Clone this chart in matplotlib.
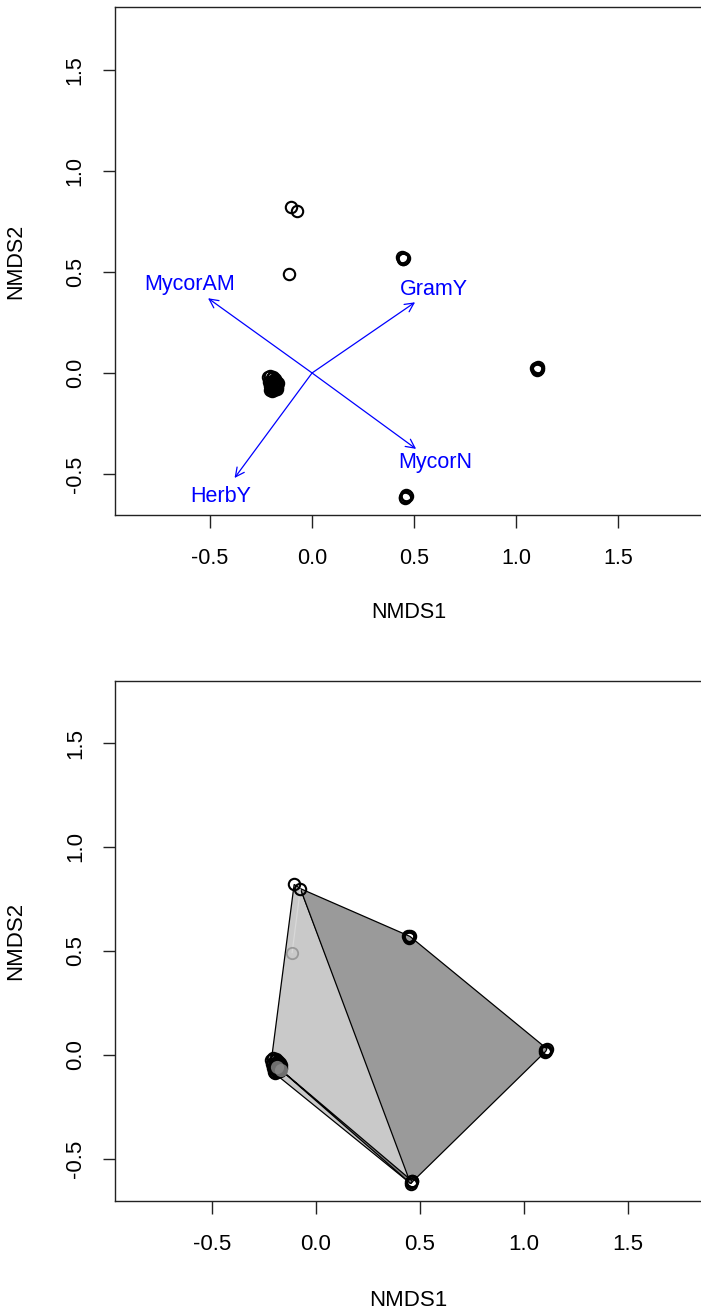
import matplotlib
matplotlib.use('Agg')
import matplotlib.pyplot as plt
from matplotlib.patches import Polygon
import numpy as np

plt.rcParams['font.family'] = ['Liberation Sans', 'DejaVu Sans']

# NMDS site scores; several sites share nearly the same position
site = ['S1', 'S2', 'S3',
        'S4', 'S4', 'S4', 'S4',
        'S5', 'S5', 'S5', 'S5',
        'S6', 'S6', 'S6', 'S6'] + ['S7'] * 22 + ['S8', 'S8']
nmds1 = [-0.105, -0.075, -0.115,
         0.440, 0.447, 0.452, 0.445,
         1.100, 1.106, 1.110, 1.103,
         0.458, 0.463, 0.455, 0.460,
         -0.214, -0.206, -0.198, -0.190, -0.182, -0.175, -0.168, -0.211,
         -0.201, -0.193, -0.185, -0.177, -0.170, -0.208, -0.199, -0.189,
         -0.180, -0.172, -0.204, -0.195, -0.186, -0.178,
         -0.185, -0.170]
nmds2 = [0.820, 0.800, 0.490,
         0.572, 0.566, 0.570, 0.562,
         0.025, 0.020, 0.030, 0.016,
         -0.612, -0.608, -0.618, -0.604,
         -0.022, -0.016, -0.025, -0.020, -0.030, -0.038, -0.048, -0.045,
         -0.050, -0.040, -0.055, -0.052, -0.062, -0.065, -0.072, -0.066,
         -0.074, -0.078, -0.084, -0.088, -0.082, -0.068,
         -0.058, -0.070]

# fitted trait vectors
vec_names = ['MycorAM', 'GramY', 'MycorN', 'HerbY']
vec_x = [-0.51, 0.505, 0.51, -0.38]
vec_y = [0.37, 0.35, -0.376, -0.52]

# groups for the hulls in the second panel
hull_groups = [['S1', 'S2', 'S7', 'S6'],
               ['S2', 'S4', 'S5', 'S6'],
               ['S8', 'S6'],
               ['S2', 'S3']]
hull_fill = ['#c9c9c9', '#9a9a9a', '#7c7c7c', '#e4e4e4']
hull_edge = ['black', 'black', 'black', '#d8d8d8']

ticks = [-0.5, 0.0, 0.5, 1.0, 1.5]

x = np.array(nmds1)
y = np.array(nmds2)
site = np.array(site)


def convex_hull(pts):
    pts = sorted(set(map(tuple, pts)))
    if len(pts) < 3:
        return pts

    def cross(o, a, b):
        return (a[0]-o[0])*(b[1]-o[1]) - (a[1]-o[1])*(b[0]-o[0])
    lower, upper = [], []
    for p in pts:
        while len(lower) >= 2 and cross(lower[-2], lower[-1], p) <= 0:
            lower.pop()
        lower.append(p)
    for p in reversed(pts):
        while len(upper) >= 2 and cross(upper[-2], upper[-1], p) <= 0:
            upper.pop()
        upper.append(p)
    return lower[:-1] + upper[:-1]


def style_axes(ax, xlim, ylim, fs):
    ax.set_xlim(*xlim)
    ax.set_ylim(*ylim)
    ax.set_xticks(ticks)
    ax.set_yticks(ticks)
    ax.set_xticklabels(['%.1f' % t for t in ticks])
    ax.set_yticklabels(['%.1f' % t for t in ticks])
    for s in ax.spines.values():
        s.set_linewidth(1.0)
        s.set_color('#222222')
    ax.tick_params(length=9, width=1.0, labelsize=fs, color='#222222')
    ax.tick_params(axis='x', pad=15)
    ax.tick_params(axis='y', pad=12)
    for lab in ax.get_yticklabels():
        lab.set_rotation(90)
        lab.set_va('center')
    ax.set_xlabel('NMDS1', fontsize=fs)
    ax.xaxis.set_label_coords(0.5, -0.172)
    ax.set_ylabel('NMDS2', fontsize=fs)
    ax.yaxis.set_label_coords(-0.152, 0.5)


fig = plt.figure(figsize=(7.01, 13.16), dpi=100)

# ordination with trait vectors
ax1 = fig.add_axes([0.1641, 0.6087, 0.8374, 0.3860])
ax1.plot(x, y, 'o', ms=8.2, mfc='none', mec='black', mew=1.5, ls='none')
for name, vx, vy in zip(vec_names, vec_x, vec_y):
    ax1.annotate('', xy=(vx, vy), xytext=(0, 0),
                 arrowprops=dict(arrowstyle='->,head_length=0.32,head_width=0.16',
                                 color='blue', lw=0.9, shrinkA=0, shrinkB=0,
                                 mutation_scale=20))
    ax1.text(vx*1.18, vy*1.18, name, color='blue', fontsize=15.5,
             ha='center', va='center')
style_axes(ax1, (-0.966, 1.912), (-0.703, 1.812), 15.5)

# ordination with group hulls
ax2 = fig.add_axes([0.1641, 0.0874, 0.8374, 0.3951])
for grp, fc, ec in zip(hull_groups, hull_fill, hull_edge):
    mask = np.isin(site, grp)
    hull = convex_hull(np.column_stack([x[mask], y[mask]]))
    closed = len(hull) > 2
    ax2.add_patch(Polygon(hull, closed=closed, facecolor=fc, edgecolor=ec,
                          lw=0.9, zorder=1))

grey = np.isin(site, ['S3'])
blob = np.isin(site, ['S8'])
black = ~grey & ~blob
ax2.plot(x[black], y[black], 'o', ms=8.2, mfc='none', mec='black', mew=1.5,
         ls='none', zorder=3)
ax2.plot(x[grey], y[grey], 'o', ms=8.2, mfc='none', mec='#999999', mew=1.3,
         ls='none', zorder=3)
ax2.plot(x[blob], y[blob], 'o', ms=9.5, mfc='#8a8a8a', mec='none', alpha=0.8,
         ls='none', zorder=3)
style_axes(ax2, (-0.966, 1.856), (-0.702, 1.798), 16)

fig.savefig('out.png', dpi=100)
